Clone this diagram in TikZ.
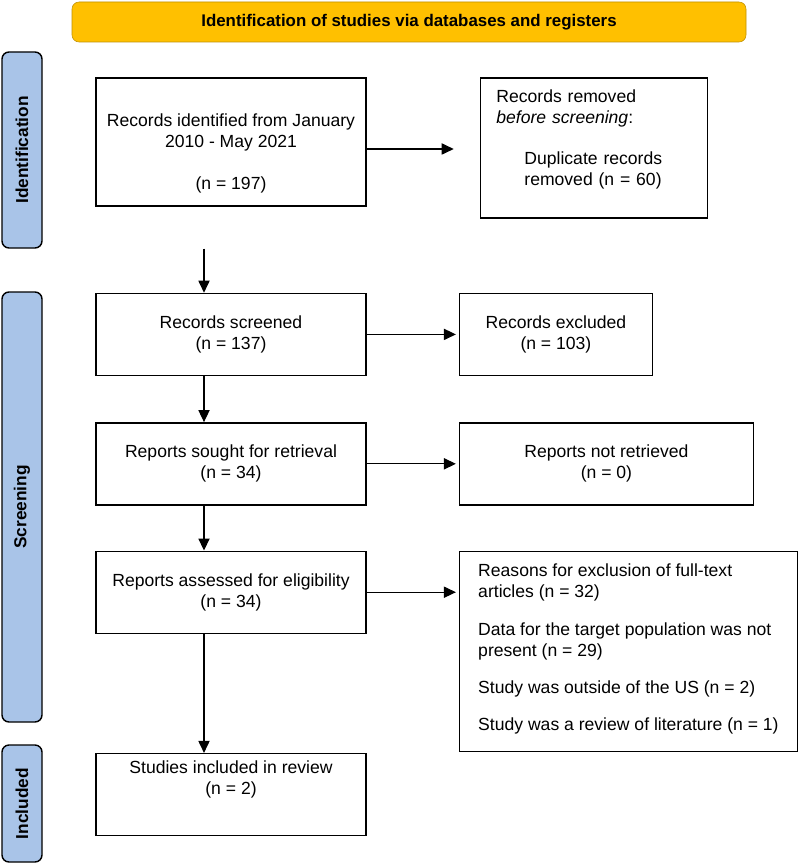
\documentclass[tikz,border=0pt]{standalone}
\usepackage{fontspec}
\setmainfont{Liberation Sans}
\usepackage{xcolor}
\usetikzlibrary{arrows.meta,positioning,calc}
\definecolor{bannergold}{HTML}{FFC000}
\definecolor{bannerline}{HTML}{BF9000}
\definecolor{phaseblue}{HTML}{A9C4E8}

\begin{document}
\begin{tikzpicture}[
    box/.style={draw=black,line width=1pt,align=center,font=\fontsize{12.5}{15}\selectfont,
                minimum width=6.75cm,minimum height=2.05cm,inner sep=4pt},
    phase/.style={draw=black,line width=1pt,fill=phaseblue,rounded corners=5pt,rotate=90,
                  minimum height=1cm,font=\bfseries\fontsize{12.3}{14}\selectfont},
    arrow/.style={-{Triangle[length=3mm,width=2.8mm]},line width=0.8pt},node distance=1.15cm]
  \path[use as bounding box,fill=white] (0,0) rectangle (20,-21.6);
  \node[draw=bannerline,fill=bannergold,rounded corners=5pt,minimum width=16.85cm,minimum height=1cm,
        font=\bfseries\fontsize{12}{14}\selectfont] (banner) at (10.225,-0.55)
       {Identification of studies via databases and registers};
  \node[phase,minimum width=4.9cm] (idphase) at (0.55,-3.75) {Identification};
  \node[phase,minimum width=10.75cm] (scrphase) at (0.55,-12.675) {Screening};
  \node[phase,minimum width=2.925cm] (incphase) at (0.55,-20.0875) {Included};
  \node[box,minimum height=3.2cm] (ident) at (5.775,-3.55)
       {\rule{0pt}{0.9cm}Records identified from January\\2010 - May 2021\\[15pt](n = 197)};
  \node[box,align=left,text width=4.875cm,minimum width=0pt,minimum height=3.5cm,inner xsep=0.4cm,
        right=2.825cm of ident.north east,anchor=north west] (removed)
       {Records removed\\\textit{before screening}:\\[14pt]\hspace*{0.7cm}Duplicate records\\
        \hspace*{0.7cm}removed (n = 60)\rule[-0.5cm]{0pt}{0.5cm}};
  \node[box,below=2.15cm of ident] (screened) {Records screened\\(n = 137)};
  \node[box,minimum width=4.825cm,right=2.3cm of screened] (excluded) {Records excluded\\(n = 103)};
  \node[box,below=1.15cm of screened] (sought) {Reports sought for retrieval\\(n = 34)};
  \node[box,minimum width=7.35cm,right=2.3cm of sought] (notret) {Reports not retrieved\\(n = 0)};
  \node[box,below=1.125cm of sought] (assessed) {Reports assessed for eligibility\\(n = 34)};
  \node[box,align=left,minimum width=8.45cm,minimum height=5cm,
        right=2.3cm of assessed.north east,anchor=north west] (reasons)
       {Reasons for exclusion of full-text\\articles (n = 32)\\[0.4cm]
        Data for the target population was not\\present (n = 29)\\[0.4cm]
        Study was outside of the US (n = 2)\\[0.4cm]
        Study was a review of literature (n = 1)\rule[-0.2cm]{0pt}{0.2cm}};
  \node[box,below=2.975cm of assessed] (included)
       {Studies included in review\\(n = 2)\rule[-0.85cm]{0pt}{0.85cm}};
  \draw[arrow,shorten >=0.65cm] ([yshift=-0.175cm]ident.east) -- ([yshift=-0.175cm]ident.east -| removed.west);
  \draw[arrow,shorten >=2pt] (screened) -- (excluded);
  \draw[arrow,shorten >=2pt] (sought) -- (notret);
  \draw[arrow,shorten >=2pt] (assessed.east) -- (assessed.east -| reasons.west);
  \draw[arrow] ([xshift=-0.675cm,yshift=-1.05cm]ident.south) -- ([xshift=-0.675cm]screened.north);
  \draw[arrow] ([xshift=-0.675cm]screened.south) -- ([xshift=-0.675cm]sought.north);
  \draw[arrow] ([xshift=-0.675cm]sought.south) -- ([xshift=-0.675cm]assessed.north);
  \draw[arrow] ([xshift=-0.675cm]assessed.south) -- ([xshift=-0.675cm]included.north);
\end{tikzpicture}
\end{document}
